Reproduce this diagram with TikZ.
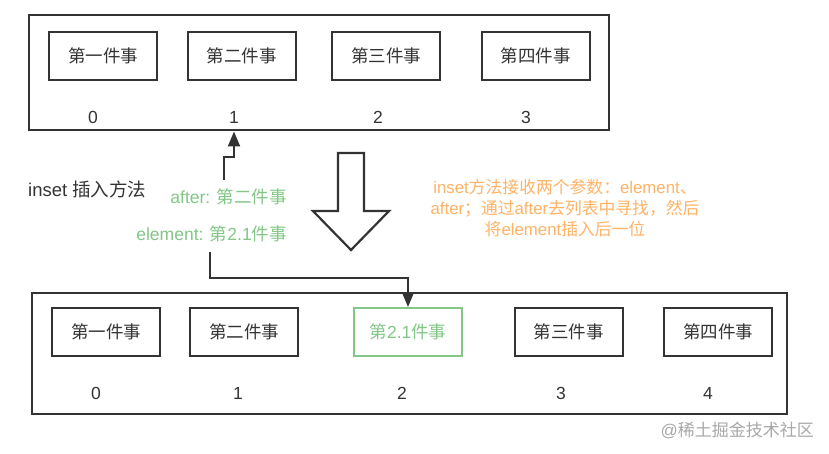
\documentclass[tikz,border=0pt]{standalone}
\usepackage{fontspec}
\setmainfont{Noto Sans CJK SC}
\newfontfamily\lat{Liberation Sans}
\usetikzlibrary{arrows.meta}
\definecolor{dk}{HTML}{333333}
\definecolor{gr}{HTML}{82C785}
\definecolor{org}{HTML}{FFB366}
\definecolor{wm}{HTML}{A8A8A8}
\tikzset{
  item/.style={draw=dk, line width=2pt, minimum width=108pt, minimum height=48pt, inner sep=0pt, font=\fontsize{17.5}{20}\selectfont, text=dk},
  newitem/.style={item, draw=gr, text=gr},
  outer/.style={draw=dk, line width=2pt, inner sep=0pt},
  idx/.style={font=\lat\fontsize{17.5}{20}\selectfont, text=dk, inner sep=0pt},
  lbl/.style={inner sep=0pt, font=\fontsize{17.5}{20}\selectfont},
  arr/.style={draw=dk, line width=2pt, -{Triangle[length=15pt,width=12pt]}},
  hollow/.style={draw=dk, line width=2.2pt, fill=white, line join=miter},
}
\begin{document}
\begin{tikzpicture}[x=1pt,y=-1pt]
\useasboundingbox[fill=white] (0,0) rectangle (829,454);
% top list
\node[outer, minimum width=580pt, minimum height=115pt] (top) at (319,73) {};
\node[item] (t1) at (103,56) {第一件事};
\node[item] (t2) at (241.5,56) {第二件事};
\node[item] (t3) at (386,56) {第三件事};
\node[item] (t4) at (535.5,56) {第四件事};
\node[idx] (l0) at (93,117) {0};
\node[idx] (l1) at (234,117) {1};
\node[idx] (l2) at (378,117) {2};
\node[idx] (l3) at (526,117) {3};
% bottom list
\node[outer, minimum width=755pt, minimum height=121pt] (bot) at (409.5,353.5) {};
\node[item] (b1) at (106,332) {第一件事};
\node[item] (b2) at (244,332) {第二件事};
\node[newitem] (g) at (408,332) {第{\lat 2.1}件事};
\node[item] (b4) at (568.5,332) {第三件事};
\node[item] (b5) at (718,332) {第四件事};
\node[idx] (m0) at (96,393) {0};
\node[idx] (m1) at (238,393) {1};
\node[idx] (m2) at (402,393) {2};
\node[idx] (m3) at (561,393) {3};
\node[idx] (m4) at (708,393) {4};
% labels
\node[lbl, anchor=west, text=dk, font=\fontsize{18.5}{20}\selectfont] (title) at (28,189) {{\lat inset }插入方法};
\node[lbl, anchor=east, text=gr] (after) at (287,197) {{\lat after: }第二件事};
\node[lbl, anchor=east, text=gr] (elem) at (287,234) {{\lat element: }第{\lat 2.1}件事};
\node[align=center, inner sep=0pt, text=org, font=\fontsize{16.8}{21}\selectfont] (note) at (565,208)
  {{\lat inset}方法接收两个参数：{\lat element}、\\{\lat after}；通过{\lat after}去列表中寻找，然后\\将{\lat element}插入后一位};
\node[anchor=east, inner sep=0pt, text=wm, font=\fontsize{17}{20}\selectfont] (wmark) at (814,430) {{\lat @}稀土掘金技术社区};
% connectors
\coordinate (a0) at (224,180);
\coordinate (a1) at (224,157);
\draw[arr] (a0) -- (a1) -| (top.south -| l1);
\coordinate (c0) at (210,252);
\coordinate (c1) at (210,278);
\draw[arr] (c0) -- (c1) -| (g.north);
% big hollow arrow
\draw[hollow] (338,153) -- (364,153) -- (364,211) -- (389,211) -- (351,250) -- (313,211) -- (338,211) -- cycle;
\end{tikzpicture}
\end{document}
